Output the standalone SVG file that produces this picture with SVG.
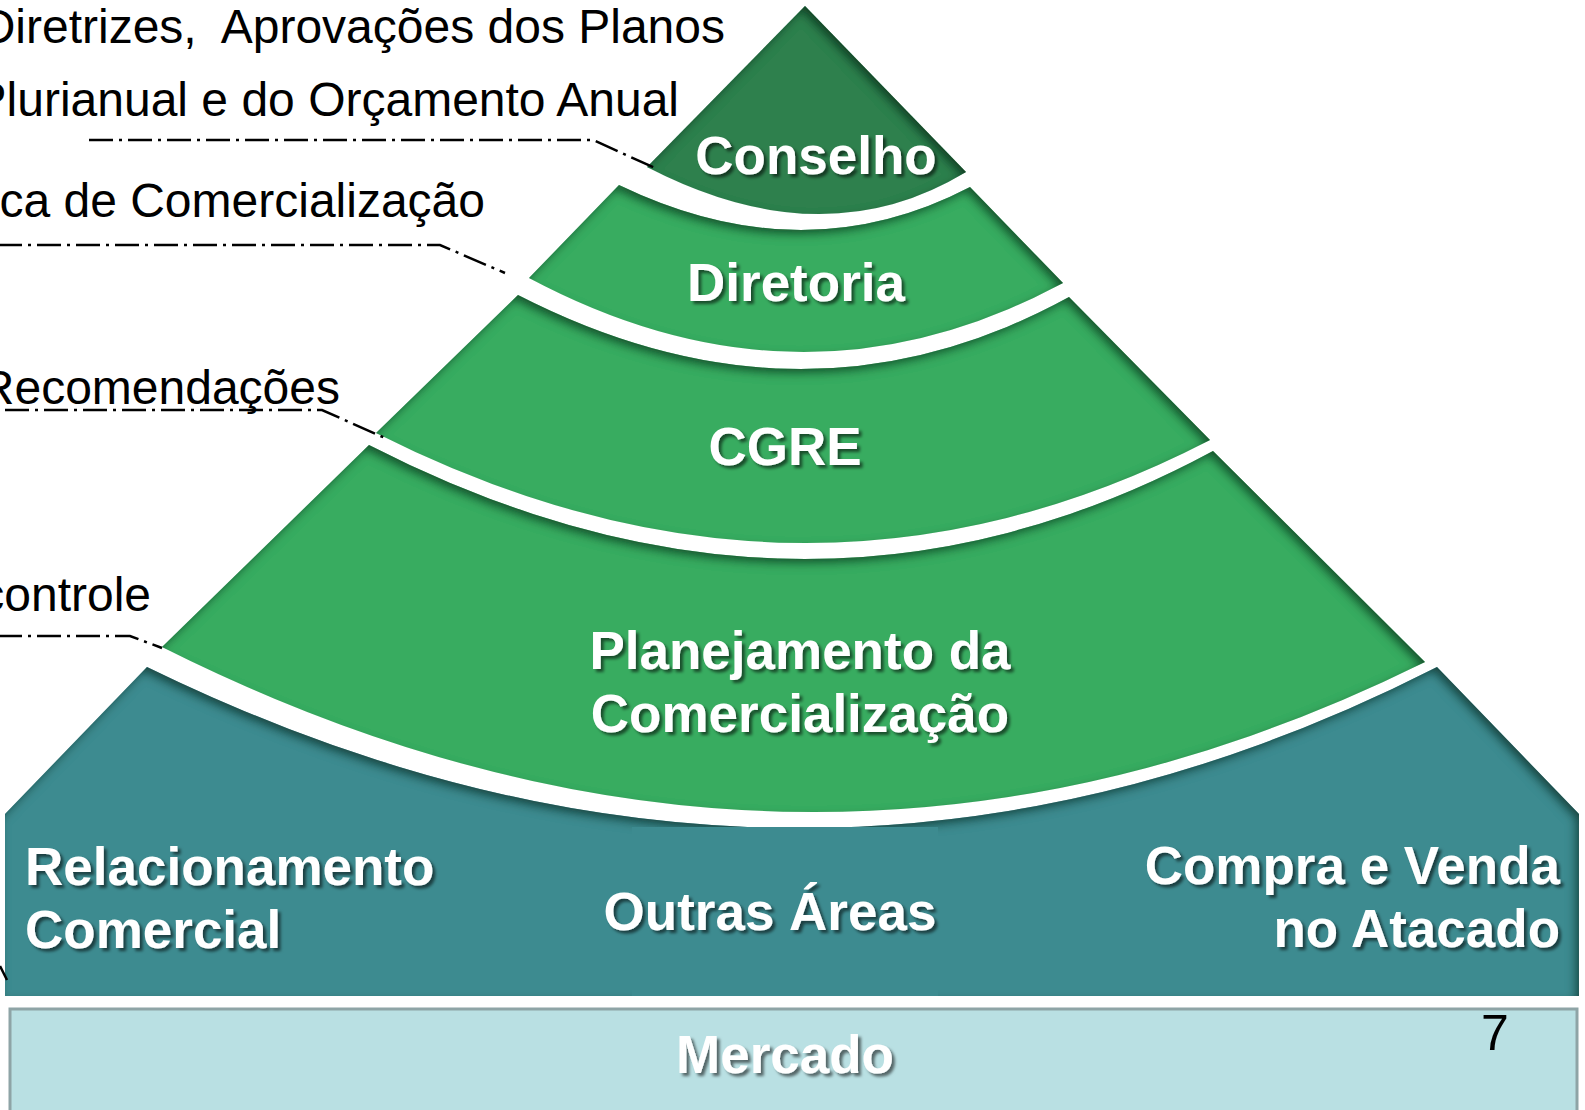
<svg xmlns="http://www.w3.org/2000/svg" width="1585" height="1110" viewBox="0 0 1585 1110">
  <defs>
    <filter id="inset" x="-5%" y="-5%" width="110%" height="110%">
      <feComponentTransfer in="SourceAlpha"><feFuncA type="table" tableValues="1 0"/></feComponentTransfer>
      <feGaussianBlur stdDeviation="5"/>
      <feOffset dx="-4" dy="5" result="off"/>
      <feFlood flood-color="#0a2e1a" flood-opacity="0.85"/>
      <feComposite in2="off" operator="in"/>
      <feComposite in2="SourceAlpha" operator="in" result="shadow"/>
      <feMerge><feMergeNode in="SourceGraphic"/><feMergeNode in="shadow"/></feMerge>
    </filter>
    <filter id="tshadow" x="-10%" y="-20%" width="120%" height="150%">
      <feDropShadow dx="3" dy="3" stdDeviation="1.5" flood-color="#000" flood-opacity="0.55"/>
    </filter>
    <style>
      .lbl { font-family: "Liberation Sans", Arial, sans-serif; font-size: 48px; fill: #000; text-anchor: end; }
      .wt { font-family: "Liberation Sans", Arial, sans-serif; font-weight: bold; font-size: 53px; fill: #fff; filter: url(#tshadow); }
      .mid { text-anchor: middle; }
      .end { text-anchor: end; }
      .dark { fill: #2E804E; filter: url(#inset); }
      .green { fill: #38AC60; filter: url(#inset); }
      .teal { fill: #3D8B90; filter: url(#inset); }
      .lead { fill: none; stroke: #000; stroke-width: 2.5; stroke-dasharray: 24 6 3 6; }
    </style>
  </defs>
  <rect x="0" y="0" width="1585" height="1110" fill="#fff"/>

  <g id="labels">
    <text class="lbl" x="725" y="43" xml:space="preserve">Diretrizes,  Aprovações dos Planos</text>
    <text class="lbl" x="679" y="116">Plurianual e do Orçamento Anual</text>
    <text class="lbl" x="485" y="217">ca de Comercialização</text>
    <text class="lbl" x="340" y="404">Recomendações</text>
    <text class="lbl" x="151" y="611" font-size="46">controle</text>
  </g>

  <g id="mercado">
    <rect x="10" y="1009" width="1567" height="110" fill="#B9E0E3" stroke="#8EA4A6" stroke-width="3"/>
    <text class="wt mid" x="785" y="1073">Mercado</text>
    <text x="1481" y="1050" font-family="Liberation Sans, Arial, sans-serif" font-size="50" fill="#000">7</text>
  </g>

  <g id="base">
    <path class="teal" d="M147,667 Q806,989 1437,667 L1579,814 L1579,996 L5,996 L5,814 Z"/>
    <text class="wt" x="25" y="885">Relacionamento</text>
    <text class="wt" x="25" y="948">Comercial</text>
    <text class="wt end" x="1560" y="884">Compra e Venda</text>
    <text class="wt end" x="1560" y="947">no Atacado</text>
  </g>

  <g id="outras-areas">
    <rect x="632" y="827" width="306" height="169" fill="#3D8B90"/>
    <text class="wt mid" x="770" y="930">Outras Áreas</text>
  </g>

  <g id="planejamento">
    <path class="green" d="M369,445 Q807,670 1213,451 L1425,662 Q804.5,969.5 162,647 Z"/>
    <text class="wt mid" x="800" y="669">Planejamento da</text>
    <text class="wt mid" x="800" y="732">Comercialização</text>
  </g>

  <g id="cgre">
    <path class="green" d="M518,295 Q804.5,442 1069,297 L1210,440 Q805,649.5 376,433 Z"/>
    <text class="wt mid" x="785" y="465">CGRE</text>
  </g>

  <g id="diretoria">
    <path class="green" d="M619,185 Q803.5,274 970,187 L1063,283 Q802,423.5 529,278 Z"/>
    <text class="wt mid" x="796" y="301">Diretoria</text>
  </g>

  <g id="conselho">
    <path class="dark" d="M805,6 L966,172 Q823.5,258.5 647,167 Z"/>
    <text class="wt mid" x="816" y="174">Conselho</text>
  </g>

  <g id="connectors">
    <path class="lead" d="M89,140 H593 L655,168"/>
    <path class="lead" d="M-2,245 H440 L505,273"/>
    <path class="lead" d="M5,410 H322 L385,438"/>
    <path class="lead" d="M-2,636 H130 L162,648"/>
    <path class="lead" d="M0,966 L7,980"/>
  </g>
</svg>
